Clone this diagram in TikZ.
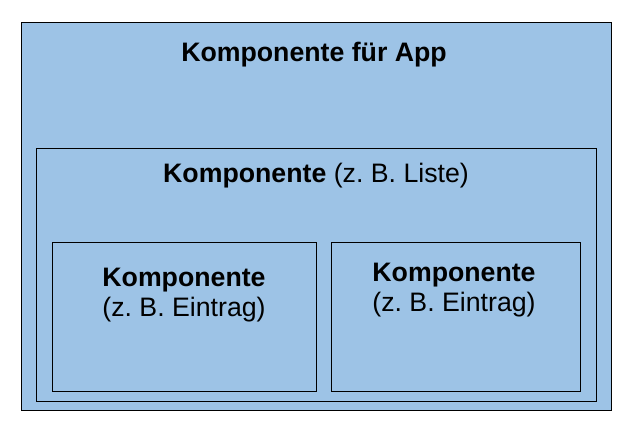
\documentclass[tikz,border=0pt]{standalone}
\usepackage{fontspec}
\setmainfont{Liberation Sans}
\usepackage{xcolor}
\definecolor{compblue}{HTML}{9DC3E6}

\begin{document}
\begin{tikzpicture}[x=1pt,y=-1pt]
\tikzset{box/.style={draw=black,fill=compblue,line width=1pt,inner sep=0pt,outer sep=0pt}}
\tikzset{label/.style={anchor=base,inner sep=0pt,font=\fontsize{26.7}{30}\selectfont}}

\useasboundingbox (0,0) rectangle (636,436);

% boxes
\node[box,minimum width=590pt,minimum height=387pt] (app) at (316,216.5) {};
\node[box,minimum width=560pt,minimum height=253.5pt] (list) at (316,274.75) {};
\node[box,minimum width=264.5pt,minimum height=149pt] (entryA) at (184.25,316.5) {};
\node[box,minimum width=249.5pt,minimum height=149pt] (entryB) at (455.75,316.5) {};

% texts
\node[label] (appText) at (314,61.7) {\textbf{Komponente für App}};
\node[label] (listText) at (316,182.3) {\textbf{Komponente} (z.~B. Liste)};
\node[label] (entryAText) at (184,286) {\textbf{Komponente}};
\node[label] (entryANote) at ([yshift=-30.5pt]entryAText.base) {(z.~B. Eintrag)};
\node[label] (entryBText) at (454,281) {\textbf{Komponente}};
\node[label] (entryBNote) at ([yshift=-30.5pt]entryBText.base) {(z.~B. Eintrag)};

\end{tikzpicture}
\end{document}
